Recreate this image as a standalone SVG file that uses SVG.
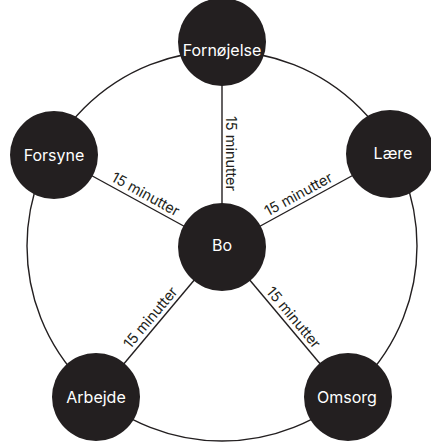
<svg xmlns="http://www.w3.org/2000/svg" width="431" height="442" viewBox="0 0 431 442">
<style>
.ring{fill:none;stroke:#231f20;stroke-width:1.4}
.spoke{stroke:#231f20;stroke-width:1.4}
.node circle{fill:#231f20}
.node text{fill:#fff;font-family:Inter,"Noto Sans",sans-serif;font-size:16px;text-anchor:middle}
.lbl{fill:#231f20;font-family:Inter,"Noto Sans",sans-serif;font-size:14.5px;text-anchor:middle}
</style>
<rect width="431" height="442" fill="#fff"/>
<g id="connectors">
<circle class="ring" cx="222" cy="246" r="195"/>
<line class="spoke" x1="222" y1="247" x2="222" y2="42"/>
<line class="spoke" x1="222" y1="247" x2="54" y2="155"/>
<line class="spoke" x1="222" y1="247" x2="390" y2="155"/>
<line class="spoke" x1="222" y1="247" x2="96" y2="397"/>
<line class="spoke" x1="222" y1="247" x2="348" y2="397"/>
<text class="lbl" transform="translate(222,153.5) rotate(90)" y="-4">15 minutter</text>
<text class="lbl" transform="translate(141,202.5) rotate(28.7)" y="-4.5">15 minutter</text>
<text class="lbl" transform="translate(303,202.5) rotate(-28.7)" y="-4.5">15 minutter</text>
<text class="lbl" transform="translate(157.7,323.6) rotate(-50)" y="-4.5">15 minutter</text>
<text class="lbl" transform="translate(286.3,323.6) rotate(50)" y="-4.5">15 minutter</text>
</g>
<g id="node-fornojelse" class="node"><circle cx="222" cy="42" r="44"/><text x="222" y="56">Fornøjelse</text></g>
<g id="node-forsyne" class="node"><circle cx="54" cy="155" r="44"/><text x="54" y="161">Forsyne</text></g>
<g id="node-laere" class="node"><circle cx="390" cy="154" r="44"/><text x="393" y="158.5">Lære</text></g>
<g id="node-bo" class="node"><circle cx="222" cy="247" r="44"/><text x="222" y="250.5">Bo</text></g>
<g id="node-arbejde" class="node"><circle cx="96" cy="397" r="44"/><text x="96" y="403">Arbejde</text></g>
<g id="node-omsorg" class="node"><circle cx="348" cy="397" r="44"/><text x="347" y="403">Omsorg</text></g>
</svg>
